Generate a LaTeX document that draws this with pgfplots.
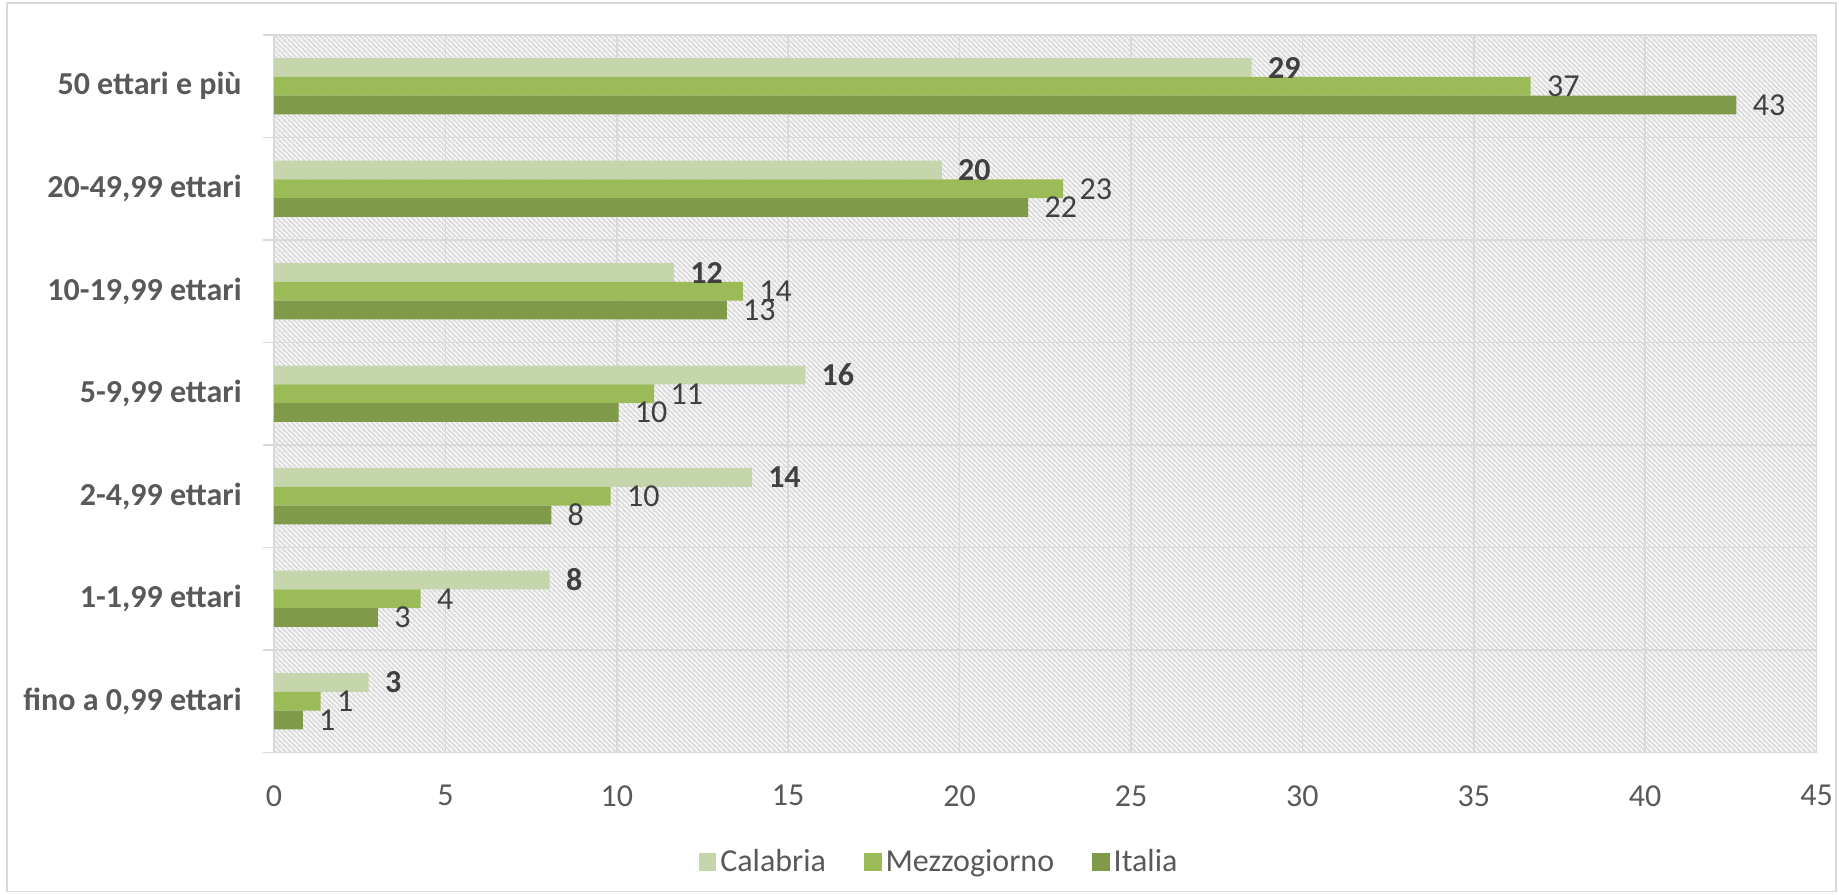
\documentclass[border=0pt]{standalone}
\usepackage{pgfplots}
\pgfplotsset{compat=1.18}
\usepackage{pgfplotstable}
\usepackage{fontspec}
\setmainfont{Carlito}
\usetikzlibrary{patterns.meta}
\definecolor{calab}{HTML}{C6D6AC}
\definecolor{mezz}{HTML}{9BBB59}
\definecolor{ital}{HTML}{7F9A48}
\definecolor{gridgray}{HTML}{D9D9D9}
\definecolor{txt}{HTML}{595959}
\definecolor{lab}{HTML}{404040}
\tikzdeclarepattern{
  name=hatchbg,
  type=uncolored,
  bounding box={(0pt,0pt) and (2.5pt,2.5pt)},
  tile size={(2.5pt,2.5pt)},
  line width=0.3pt,
  code={
    \draw (-1.25pt,1.25pt) -- (1.25pt,-1.25pt);
    \draw (0pt,2.5pt) -- (2.5pt,0pt);
    \draw (1.25pt,3.75pt) -- (3.75pt,1.25pt);
  }
}
\newcommand{\fs}{\fontsize{16}{19}\selectfont}

\pgfplotstableread{
y x lab
0 2.76 3
1 8.04 8
2 13.94 14
3 15.50 16
4 11.67 12
5 19.48 20
6 28.52 29
}\calabria
\pgfplotstableread{
y x lab
0 1.36 1
1 4.28 4
2 9.82 10
3 11.09 11
4 13.68 14
5 23.02 23
6 36.66 37
}\mezzogiorno
\pgfplotstableread{
y x lab
0 0.84 1
1 3.03 3
2 8.09 8
3 10.05 10
4 13.21 13
5 22.00 22
6 42.66 43
}\italia

\begin{document}
\begin{tikzpicture}
\useasboundingbox (-137pt,-70.75pt) rectangle (782.5pt,376.25pt);
\draw[draw=gridgray, line width=0.75pt] (-133.5pt,-69.5pt) rectangle (781pt,374.75pt);
\begin{axis}[
  at={(0,0)}, anchor=south west,
  scale only axis, width=771.3pt, height=358.75pt,
  xmin=0, xmax=45, ymin=-0.5, ymax=6.5,
  xtick={0,5,...,45},
  ytick={0,...,6},
  yticklabels={{fino a 0,99 ettari},{1-1,99 ettari},{2-4,99 ettari},{5-9,99 ettari},{10-19,99 ettari},{20-49,99 ettari},{50 ettari e più}},
  minor ytick={-0.5,0.5,...,6.5},
  ytick pos=left,
  xtick pos=bottom,
  xmajorgrids, yminorgrids, ymajorgrids=false,
  grid style={draw=gridgray, line width=0.75pt},
  minor grid style={draw=gridgray, line width=0.75pt},
  axis line style={draw=gridgray, line width=0.75pt},
  major tick length=0pt, minor tick length=5.3pt, tick align=outside,
  tick style={draw=gridgray, line width=0.75pt},
  axis background/.style={pattern=hatchbg, pattern color=black!14},
  /pgf/number format/assume math mode=true,
  xticklabel style={font=\fs, text=txt, inner sep=0pt, yshift=-16.2pt},
  yticklabel style={font=\fs\bfseries, text=txt, inner sep=0pt, xshift=-16pt},
  legend style={at={(axis description cs:0.4318,-0.1526)}, anchor=center, draw=none, fill=none,
    font=\fs, text=txt, legend columns=3,
    /tikz/every even column/.append style={column sep=17pt}},
  legend cell align=left,
  clip=false,
]
\addplot[xbar, fill=calab, draw=none, bar width=9.35pt, bar shift=9.35pt,
  legend image code/.code={\fill[calab] (0pt,-4.4pt) rectangle (8.8pt,4.4pt);},
  nodes near coords, point meta=explicit symbolic,
  nodes near coords style={anchor=west, inner sep=0pt, xshift=8pt, yshift=9.35pt, font=\fs\bfseries, text=lab}]
  table[x=x, y=y, meta=lab] {\calabria};
\addlegendentry{Calabria}
\addplot[xbar, fill=mezz, draw=none, bar width=9.35pt, bar shift=0pt,
  legend image code/.code={\fill[mezz] (0pt,-4.4pt) rectangle (8.8pt,4.4pt);},
  nodes near coords, point meta=explicit symbolic,
  nodes near coords style={anchor=west, inner sep=0pt, xshift=8pt, font=\fs, text=lab}]
  table[x=x, y=y, meta=lab] {\mezzogiorno};
\addlegendentry{Mezzogiorno}
\addplot[xbar, fill=ital, draw=none, bar width=9.35pt, bar shift=-9.35pt,
  legend image code/.code={\fill[ital] (0pt,-4.4pt) rectangle (8.8pt,4.4pt);},
  nodes near coords, point meta=explicit symbolic,
  nodes near coords style={anchor=west, inner sep=0pt, xshift=8pt, yshift=-9.35pt, font=\fs, text=lab}]
  table[x=x, y=y, meta=lab] {\italia};
\addlegendentry{Italia}
\end{axis}
\end{tikzpicture}
\end{document}
